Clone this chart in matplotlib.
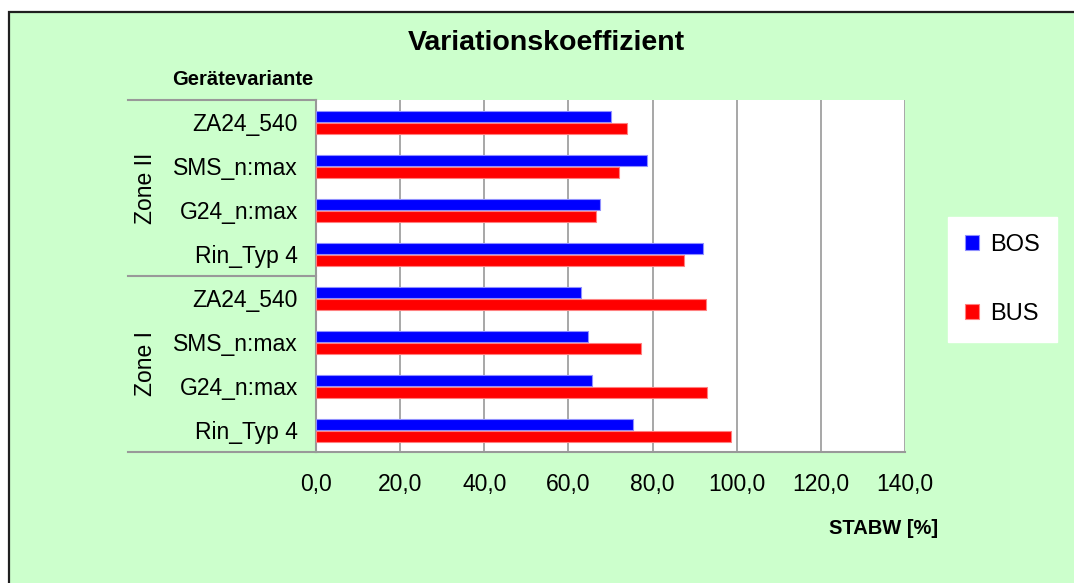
import numpy as np
import matplotlib.pyplot as plt
from matplotlib.patches import Rectangle
from matplotlib.ticker import FuncFormatter

plt.rcParams['font.family'] = ['Liberation Sans', 'DejaVu Sans']

# data (top to bottom)
varianten = ['ZA24_540', 'SMS_n:max', 'G24_n:max', 'Rin_Typ 4',
             'ZA24_540', 'SMS_n:max', 'G24_n:max', 'Rin_Typ 4']
zonen = ['Zone II', 'Zone I']
bos = [70.2, 78.6, 67.5, 92.0, 62.9, 64.7, 65.7, 75.4]
bus = [74.0, 72.1, 66.6, 87.4, 92.6, 77.3, 92.9, 98.6]

W, H = 1074, 583
fig = plt.figure(figsize=(W / 100, H / 100), dpi=100, facecolor='white')

# green chart area with dark border
bg = Rectangle((9 / W, -0.1), 1.2, 1 - 12 / H + 0.1, transform=fig.transFigure,
               facecolor='#CCFFCC', edgecolor='#202020', linewidth=1.6, zorder=-10)
fig.patches.append(bg)

ax = fig.add_axes([316 / W, 1 - 452 / H, 589 / W, 352 / H])
ax.set_facecolor('white')

y = np.arange(len(varianten))
h = 0.25
ax.barh(y - 0.135, bos, height=h, color='#0000FF', edgecolor='#9090FF', linewidth=0.8,
        label='BOS', zorder=3)
ax.barh(y + 0.14, bus, height=h, color='#FF0000', edgecolor='#FF8080', linewidth=0.8,
        label='BUS', zorder=3)

ax.set_xlim(0, 140)
ax.set_ylim(len(varianten) - 0.5, -0.5)
ax.set_xticks(np.arange(0, 141, 20))
ax.xaxis.set_major_formatter(FuncFormatter(lambda v, p: f'{v:.1f}'.replace('.', ',')))
ax.grid(axis='x', color='#A0A0A0', linewidth=1.3, zorder=1)
ax.set_axisbelow(True)
ax.tick_params(axis='x', length=0, pad=15, labelsize=16.5)
ax.set_yticks(y)
ax.set_yticklabels(varianten)
ax.tick_params(axis='y', length=0, pad=13, labelsize=16.5)

for s in ['top', 'right']:
    ax.spines[s].set_visible(False)
for s in ['left', 'bottom']:
    ax.spines[s].set_color('#999999')
    ax.spines[s].set_linewidth(1.5)

# category axis separators
xl = (128 - 316) / 589
for yy in [-0.5, 3.5, 7.5]:
    ax.plot([xl, 0], [yy, yy], transform=ax.get_yaxis_transform(), color='#999999',
            linewidth=1.5, clip_on=False, zorder=2)

# zone labels
for i, z in enumerate(zonen):
    ax.text((145 - 316) / 589, 1.5 + 4 * i, z, transform=ax.get_yaxis_transform(),
            rotation=90, ha='center', va='center', fontsize=16.5)

fig.text(546 / W, 1 - 43 / H, 'Variationskoeffizient', ha='center', va='center',
         fontsize=20.5, fontweight='bold')
fig.text(243 / W, 1 - 80 / H, 'Gerätevariante', ha='center', va='center',
         fontsize=14.5, fontweight='bold')
fig.text(884 / W, 1 - 528 / H, 'STABW [%]', ha='center', va='center',
         fontsize=14.5, fontweight='bold')

leg = fig.legend(loc='center', bbox_to_anchor=(1002.5 / W, 1 - 279.5 / H),
                 fontsize=17, frameon=True, fancybox=False, framealpha=1,
                 edgecolor='white', facecolor='white', handlelength=0.6,
                 handleheight=0.6, handletextpad=0.5, labelspacing=2.0,
                 borderpad=0.7, borderaxespad=0)

fig.savefig('out.png', dpi=100, facecolor='white')
